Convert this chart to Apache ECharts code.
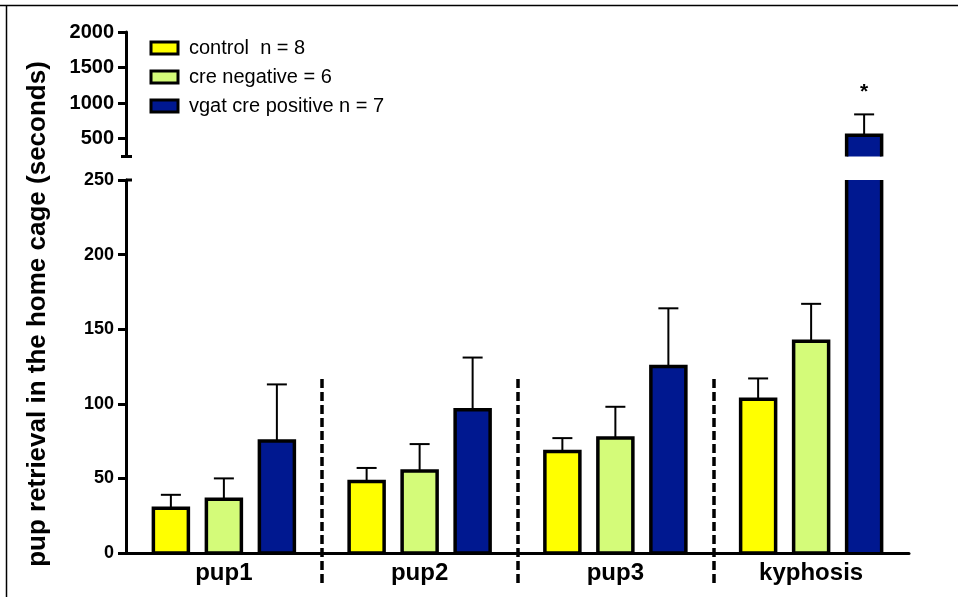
<!DOCTYPE html>
<html>
<head>
<meta charset="utf-8">
<script src="https://cdn.jsdelivr.net/npm/echarts@6/dist/echarts.min.js"></script>
<style>html,body{margin:0;padding:0;background:#fff}#c{width:958px;height:597px}</style>
</head>
<body>
<div id="c"></div>
<script>
const categories = ['pup1', 'pup2', 'pup3', 'kyphosis'];
const seriesNames = ['control  n = 8', 'cre negative = 6', 'vgat cre positive n = 7'];
const controlMean = [30, 48, 68, 103];
const controlErrTop = [39, 57, 77, 117];
const creNegMean = [36, 55, 77, 142];
const creNegErrTop = [50, 73, 98, 167];
const vgatMean = [75, 96, 125, 548];
const vgatErrTop = [113, 131, 164, 842];
const vgatSig = ['', '', '', '*'];
const lowerTicks = [0, 50, 100, 150, 200, 250];
const upperTicks = [500, 1000, 1500, 2000];
const upperMin = 250;
const dividerPositions = [1, 2, 3];

const colors = ['#FFFF00', '#D4FB79', '#001890'];
const means = [controlMean, creNegMean, vgatMean];
const errTops = [controlErrTop, creNegErrTop, vgatErrTop];
const sigs = [['', '', '', ''], ['', '', '', ''], vgatSig];

const FONT = 'Liberation Sans, Arial, sans-serif';
const BAR_W = 35, BAR_GAP = 18, BORDER = 3.5;

const chart = echarts.init(document.getElementById('c'));

const series = [];
[0, 1].forEach(function (g) {
  for (let s = 0; s < 3; s++) {
    const off = (s - 1) * (BAR_W + BAR_GAP);
    series.push({
      type: 'custom', name: seriesNames[s], xAxisIndex: g, yAxisIndex: g, silent: true, z: 3,
      itemStyle: { color: colors[s], borderColor: '#000', borderWidth: BORDER },
      data: categories.map(function (c, i) { return [i, means[s][i], errTops[s][i]]; }),
      encode: { x: 0, y: 2 },
      renderItem: function (params, api) {
        const cs = params.coordSys;
        const csTop = cs.y, csBot = cs.y + cs.height;
        const cx = api.coord([api.value(0), 0])[0] + off;
        const yTopRaw = api.coord([api.value(0), api.value(1)])[1];
        const yBaseRaw = api.coord([api.value(0), 0])[1];
        const yErrRaw = api.coord([api.value(0), api.value(2)])[1];
        const yT = Math.max(yTopRaw, csTop), yB = Math.min(yBaseRaw, csBot);
        const children = [];
        if (yT >= yB) return { type: 'group', children: children };
        const x0 = cx - BAR_W / 2, x1 = cx + BAR_W / 2;
        const topClipped = yTopRaw < csTop;
        const baseClipped = yBaseRaw > csBot;
        // error bar (drawn under bar outline)
        if (!topClipped) {
          const ye = Math.max(yErrRaw, csTop);
          children.push({ type: 'line', shape: { x1: cx, y1: yT, x2: cx, y2: ye }, style: { stroke: '#000', lineWidth: 2 } });
          if (yErrRaw >= csTop) {
            children.push({ type: 'line', shape: { x1: cx - 10, y1: ye, x2: cx + 10, y2: ye }, style: { stroke: '#000', lineWidth: 2 } });
          }
          const sig = sigs[s][params.dataIndex];
          if (sig) {
            children.push({ type: 'text', x: cx, y: ye - 22, style: { text: sig, font: 'bold 21px ' + FONT, fill: '#000', align: 'center', verticalAlign: 'middle' } });
          }
        }
        children.push({ type: 'rect', shape: { x: x0, y: yT, width: BAR_W, height: yB - yT }, style: { fill: colors[s] } });
        const pts = [];
        pts.push([x0, baseClipped ? yB : yB]);
        pts.push([x0, yT]);
        if (topClipped) {
          children.push({ type: 'line', shape: { x1: x0, y1: yB, x2: x0, y2: yT }, style: { stroke: '#000', lineWidth: BORDER } });
          children.push({ type: 'line', shape: { x1: x1, y1: yB, x2: x1, y2: yT }, style: { stroke: '#000', lineWidth: BORDER } });
        } else {
          const poly = [[x0, yB], [x0, yT], [x1, yT], [x1, yB]];
          if (!baseClipped) poly.push([x0, yB]);
          children.push({ type: 'polyline', shape: { points: poly }, style: { stroke: '#000', lineWidth: BORDER, fill: null, lineJoin: 'miter' } });
        }
        return { type: 'group', children: children };
      }
    });
  }
});
series.push({
  type: 'line', xAxisIndex: 2, yAxisIndex: 2, data: [], silent: true,
  markLine: {
    silent: true, symbol: ['none', 'none'], label: { show: false },
    lineStyle: { type: [9, 4], width: 3.5, color: '#000' },
    emphasis: { disabled: true },
    data: dividerPositions.map(function (p) { return { xAxis: p }; })
  }
});

chart.setOption({
  animation: false,
  backgroundColor: '#fff',
  grid: [
    { left: 126, right: 49, top: 180, bottom: 44 },
    { left: 126, right: 49, top: 32, height: 124.5 },
    { left: 126, right: 49, top: 375, bottom: 14 }
  ],
  xAxis: [
    { type: 'category', gridIndex: 0, data: categories, z: 5,
      axisLine: { lineStyle: { color: '#000', width: 3 } }, axisTick: { show: false },
      axisLabel: { color: '#000', fontFamily: FONT, fontWeight: 'bold', fontSize: 24, margin: 8 } },
    { type: 'category', gridIndex: 1, data: categories, show: false },
    { type: 'value', gridIndex: 2, min: 0, max: categories.length, show: false }
  ],
  yAxis: [
    { type: 'value', gridIndex: 0, min: lowerTicks[0], max: lowerTicks[lowerTicks.length - 1], interval: lowerTicks[1] - lowerTicks[0], z: 5,
      axisLine: { show: true, lineStyle: { color: '#000', width: 3 } },
      axisTick: { show: true, length: 8, lineStyle: { color: '#000', width: 3 } },
      splitLine: { show: false },
      axisLabel: { color: '#000', fontFamily: FONT, fontWeight: 'bold', fontSize: 18, margin: 12 } },
    { type: 'value', gridIndex: 1, min: upperMin, max: upperTicks[upperTicks.length - 1], z: 5,
      axisLine: { show: true, lineStyle: { color: '#000', width: 3 } },
      axisTick: { show: true, length: 8, lineStyle: { color: '#000', width: 3 }, customValues: upperTicks },
      splitLine: { show: false },
      axisLabel: { color: '#000', fontFamily: FONT, fontWeight: 'bold', fontSize: 20, margin: 12, customValues: upperTicks,
        formatter: function (v) { return String(v); } } },
    { type: 'value', gridIndex: 2, min: 0, max: 1, show: false }
  ],
  legend: {
    orient: 'vertical', left: 144.5, top: 33, itemGap: 9,
    itemWidth: 27, itemHeight: 12, icon: 'rect',
    itemStyle: { borderColor: '#000', borderWidth: 3 },
    textStyle: { color: '#000', fontFamily: FONT, fontSize: 20, padding: [0, 0, 0, 6] },
    selectedMode: false,
    data: seriesNames
  },
  series: series
});

function drawExtras() {
  const axisX = chart.getModel().getComponent('grid', 0).coordinateSystem.getRect().x;
  const yLowTop = chart.convertToPixel({ yAxisIndex: 0 }, lowerTicks[lowerTicks.length - 1]);
  const yUpBottom = chart.convertToPixel({ yAxisIndex: 1 }, upperMin);
  chart.setOption({
    graphic: [
      { type: 'line', z: 10, shape: { x1: axisX, y1: yLowTop, x2: axisX + 6, y2: yLowTop }, style: { stroke: '#000', lineWidth: 3 } },
      { type: 'line', z: 10, shape: { x1: axisX - 5, y1: yUpBottom, x2: axisX + 6, y2: yUpBottom }, style: { stroke: '#000', lineWidth: 3 } },
      { type: 'text', x: 38, y: 314, rotation: Math.PI / 2,
        style: { text: 'pup retrieval in the home cage (seconds)', font: 'bold 26px ' + FONT, fill: '#000', align: 'center', verticalAlign: 'middle' } },
      { type: 'line', shape: { x1: 0, y1: 5.5, x2: 958, y2: 5.5 }, style: { stroke: '#000', lineWidth: 1.5 } },
      { type: 'line', shape: { x1: 6.5, y1: 5, x2: 6.5, y2: 597 }, style: { stroke: '#000', lineWidth: 1.5 } }
    ]
  });
}
drawExtras();
</script>
</body>
</html>
